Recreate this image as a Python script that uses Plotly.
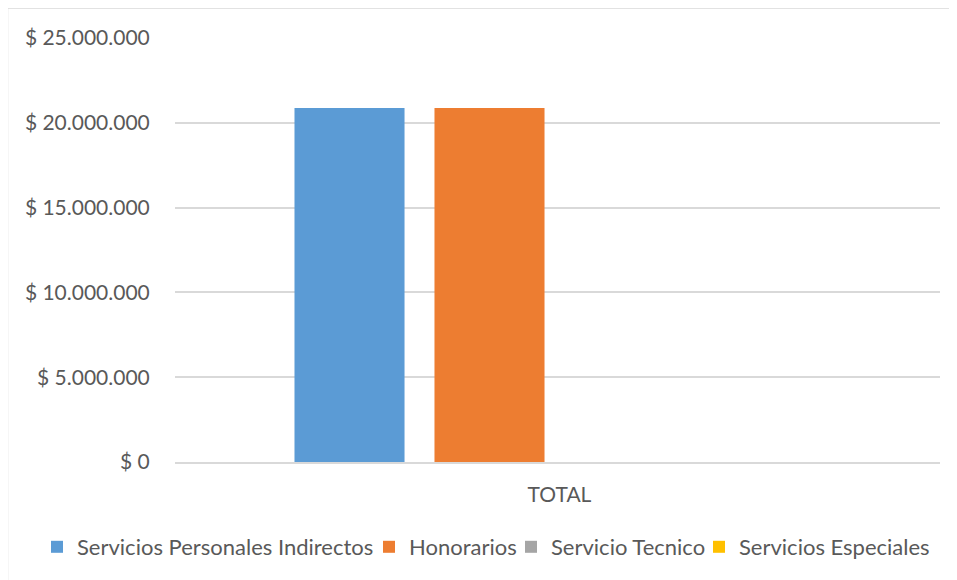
import plotly.graph_objects as go

categories = ["TOTAL"]
series_names = ["Servicios Personales Indirectos", "Honorarios", "Servicio Tecnico", "Servicios Especiales"]
series_values = [[20870000], [20870000], [0], [0]]
colors = ["#5B9BD5", "#ED7D31", "#A5A5A5", "#FFC000"]
legend_widths = [287, 97, 143, 190]
tick_vals = [0, 5000000, 10000000, 15000000, 20000000, 25000000]
tick_text = ["$ 0", "$ 5.000.000", "$ 10.000.000", "$ 15.000.000", "$ 20.000.000", "$ 25.000.000"]

FONT = "Lato"
fig = go.Figure()
for name, vals, col, lw in zip(series_names, series_values, colors, legend_widths):
    fig.add_trace(go.Bar(x=categories, y=vals, name=name, legendwidth=lw,
                         marker=dict(color=col, line=dict(width=0))))

OFF = 8  # page body margin
W, H = 957 - OFF, 580 - OFF
# plot area in screen pixels
PL, PR, PT, PB = 175, 940, 38, 462
L, T = PL - OFF, PT - OFF
R = W - (PR - OFF)
B = H - (PB - OFF)
pw, ph = PR - PL, PB - PT

def px_x(x):
    return (x - PL) / pw

def px_y(y):
    return 1 - (y - PT) / ph

shift = 2 / pw
fig.update_layout(
    width=W, height=H,
    margin=dict(l=L, r=R, t=T, b=B, pad=0),
    paper_bgcolor="white", plot_bgcolor="white",
    barmode="group", bargap=0.268, bargroupgap=0.214,
    font=dict(family=FONT, size=21, color="#595959"),
    showlegend=True,
    legend=dict(orientation="h", x=px_x(37), xanchor="left", y=px_y(547), yanchor="middle",
                font=dict(family=FONT, size=22, color="#595959"), itemwidth=30, traceorder="normal",
                itemclick=False, entrywidthmode="pixels"),
    xaxis=dict(range=[-0.5 - shift, 0.5 - shift],
               showgrid=False, showline=True, linecolor="#d9d9d9", linewidth=1.5,
               ticks="outside", ticklen=13, tickcolor="rgba(0,0,0,0)",
               tickfont=dict(family=FONT, size=21, color="#595959")),
    yaxis=dict(range=[0, 25000000], tickvals=tick_vals, ticktext=tick_text,
               showgrid=True, gridcolor="#d9d9d9", gridwidth=1.5, zeroline=False,
               ticks="outside", ticklen=20, tickcolor="rgba(0,0,0,0)",
               tickfont=dict(family=FONT, size=21, color="#595959")),
    shapes=[
        dict(type="line", xref="paper", yref="paper", x0=px_x(7.5), x1=px_x(960), y0=px_y(8), y1=px_y(8),
             line=dict(color="#d9d9d9", width=1.5)),
        dict(type="line", xref="paper", yref="paper", x0=px_x(7.5), x1=px_x(7.5), y0=px_y(8), y1=px_y(585),
             line=dict(color="#d9d9d9", width=1.5)),
    ],
)
fig.write_html("out.html")
